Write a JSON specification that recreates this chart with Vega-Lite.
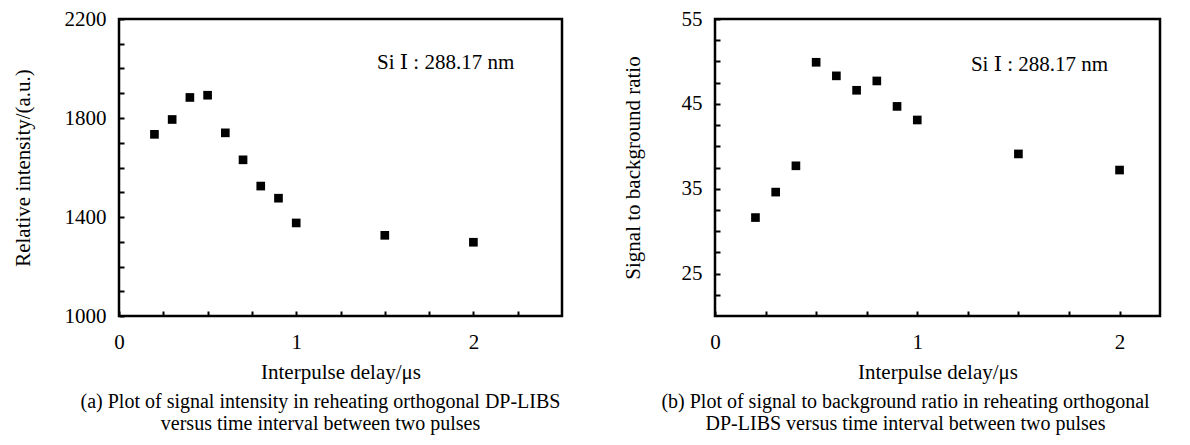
{
  "$schema": "https://vega.github.io/schema/vega-lite/v6.json",
  "autosize": {"type": "pad"},
  "padding": {"left": 10, "top": 6, "right": 0, "bottom": 0},
  "background": "white",
  "config": {
    "font": "Liberation Serif",
    "view": {"stroke": "black", "strokeWidth": 2.5},
    "axis": {
      "domain": false,
      "grid": false,
      "tickColor": "black",
      "tickWidth": 2,
      "tickSize": -5,
      "tickCount": 100,
      "labelColor": "black",
      "labelFont": "Liberation Serif",
      "labelFontSize": 21,
      "titleColor": "black",
      "titleFont": "Liberation Serif",
      "titleFontSize": 21,
      "titleFontWeight": "normal",
      "labelFlush": false,
      "labelOverlap": false
    },
    "title": {"font": "Liberation Serif", "fontSize": 20, "fontWeight": "normal", "color": "black"}
  },
  "datasets": {
    "a": [
      {"delay": 0.2, "value": 1734},
      {"delay": 0.3, "value": 1794},
      {"delay": 0.4, "value": 1883},
      {"delay": 0.5, "value": 1892},
      {"delay": 0.6, "value": 1740},
      {"delay": 0.7, "value": 1631},
      {"delay": 0.8, "value": 1525},
      {"delay": 0.9, "value": 1476},
      {"delay": 1.0, "value": 1376},
      {"delay": 1.5, "value": 1326},
      {"delay": 2.0, "value": 1298}
    ],
    "b": [
      {"delay": 0.2, "value": 31.6},
      {"delay": 0.3, "value": 34.6},
      {"delay": 0.4, "value": 37.7},
      {"delay": 0.5, "value": 49.9},
      {"delay": 0.6, "value": 48.3},
      {"delay": 0.7, "value": 46.6},
      {"delay": 0.8, "value": 47.7},
      {"delay": 0.9, "value": 44.7},
      {"delay": 1.0, "value": 43.1},
      {"delay": 1.5, "value": 39.1},
      {"delay": 2.0, "value": 37.2}
    ],
    "la": [{"delay": 1.456, "value": 2022, "label": "Si Ⅰ : 288.17 nm"}],
    "lb": [{"delay": 1.265, "value": 49.6, "label": "Si Ⅰ : 288.17 nm"}]
  },
  "spacing": 153,
  "bounds": "flush",
  "hconcat": [
    {
      "width": 443,
      "height": 297,
      "title": {
        "text": ["(a) Plot of signal intensity in reheating orthogonal DP-LIBS", "versus time interval between two pulses"],
        "orient": "bottom",
        "anchor": "middle",
        "dx": -20,
        "offset": 10,
        "lineHeight": 22
      },
      "layer": [
        {
          "data": {"name": "a"},
          "mark": {"type": "point", "shape": "square", "filled": true, "color": "black", "size": 75, "opacity": 1},
          "encoding": {
            "x": {
              "field": "delay", "type": "quantitative",
              "scale": {"domain": [0, 2.5], "nice": false, "zero": false},
              "axis": {
                "title": "Interpulse delay/μs",
                "values": [0, 0.25, 0.5, 0.75, 1, 1.25, 1.5, 1.75, 2, 2.25],
                "labelExpr": "datum.value == 0 || datum.value == 1 || datum.value == 2 ? format(datum.value, 'd') : ''",
                "labelPadding": 20,
                "titlePadding": 9
              }
            },
            "y": {
              "field": "value", "type": "quantitative",
              "scale": {"domain": [1000, 2200], "nice": false, "zero": false},
              "axis": {
                "title": "Relative intensity/(a.u.)",
                "values": [1000, 1100, 1200, 1300, 1400, 1500, 1600, 1700, 1800, 1900, 2000, 2100, 2200],
                "labelExpr": "datum.value == 1000 || datum.value == 1400 || datum.value == 1800 || datum.value == 2200 ? format(datum.value, 'd') : ''",
                "labelPadding": 18,
                "titlePadding": 31
              }
            }
          }
        },
        {
          "data": {"name": "la"},
          "mark": {"type": "text", "align": "left", "baseline": "middle", "fontSize": 21, "font": "Liberation Serif, DejaVu Serif", "color": "black"},
          "encoding": {
            "x": {"field": "delay", "type": "quantitative"},
            "y": {"field": "value", "type": "quantitative"},
            "text": {"field": "label"}
          }
        }
      ]
    },
    {
      "width": 445,
      "height": 297,
      "title": {
        "text": ["(b) Plot of signal to background ratio in reheating orthogonal", "DP-LIBS versus time interval between two pulses"],
        "orient": "bottom",
        "anchor": "middle",
        "dx": -32,
        "offset": 10,
        "lineHeight": 22
      },
      "layer": [
        {
          "data": {"name": "b"},
          "mark": {"type": "point", "shape": "square", "filled": true, "color": "black", "size": 75, "opacity": 1},
          "encoding": {
            "x": {
              "field": "delay", "type": "quantitative",
              "scale": {"domain": [0, 2.2], "nice": false, "zero": false},
              "axis": {
                "title": "Interpulse delay/μs",
                "values": [0, 0.25, 0.5, 0.75, 1, 1.25, 1.5, 1.75, 2],
                "labelExpr": "datum.value == 0 || datum.value == 1 || datum.value == 2 ? format(datum.value, 'd') : ''",
                "labelPadding": 20,
                "titlePadding": 9
              }
            },
            "y": {
              "field": "value", "type": "quantitative",
              "scale": {"domain": [20, 55], "nice": false, "zero": false},
              "axis": {
                "title": "Signal to background ratio",
                "values": [22.5, 25, 27.5, 30, 32.5, 35, 37.5, 40, 42.5, 45, 47.5, 50, 52.5, 55],
                "labelExpr": "datum.value == 25 || datum.value == 35 || datum.value == 45 || datum.value == 55 ? format(datum.value, 'd') : ''",
                "labelPadding": 18,
                "titlePadding": 38
              }
            }
          }
        },
        {
          "data": {"name": "lb"},
          "mark": {"type": "text", "align": "left", "baseline": "middle", "fontSize": 21, "font": "Liberation Serif, DejaVu Serif", "color": "black"},
          "encoding": {
            "x": {"field": "delay", "type": "quantitative"},
            "y": {"field": "value", "type": "quantitative"},
            "text": {"field": "label"}
          }
        }
      ]
    }
  ]
}
